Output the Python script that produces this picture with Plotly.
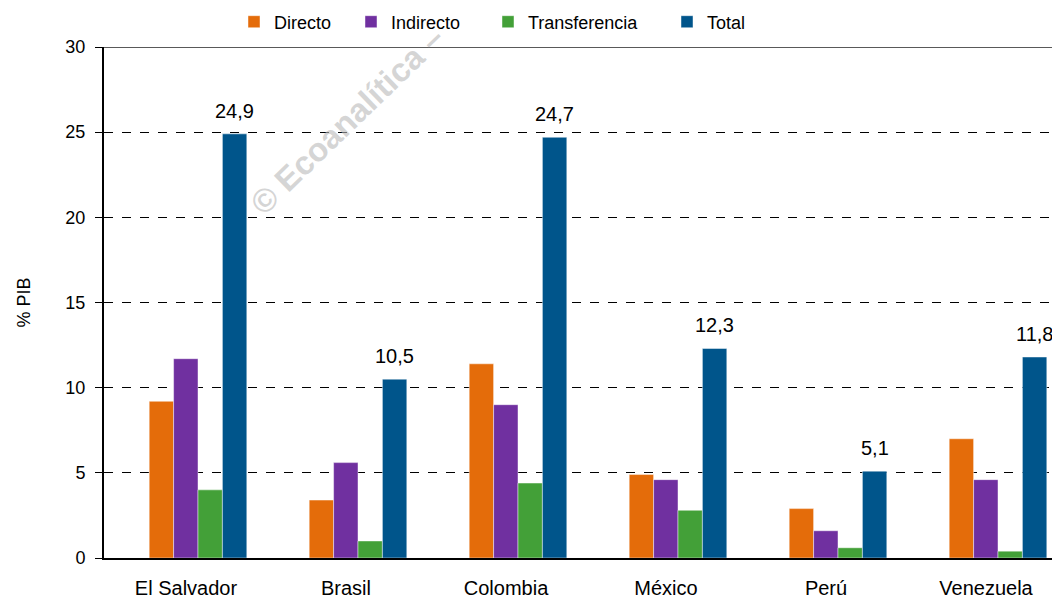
import plotly.graph_objects as go

countries = ["El Salvador", "Brasil", "Colombia", "México", "Perú", "Venezuela"]
directo = [9.2, 3.4, 11.4, 4.9, 2.9, 7.0]
indirecto = [11.7, 5.6, 9.0, 4.6, 1.6, 4.6]
transferencia = [4.0, 1.0, 4.4, 2.8, 0.6, 0.4]
total = [24.9, 10.5, 24.7, 12.3, 5.1, 11.8]
y_ticks = [0, 5, 10, 15, 20, 25, 30]

series = [
    ("Directo", directo, "#E46C0A", "legend"),
    ("Indirecto", indirecto, "#7030A0", "legend2"),
    ("Transferencia", transferencia, "#43A038", "legend3"),
    ("Total", total, "#00558B", "legend4"),
]

FONT = "Liberation Sans, Arial, sans-serif"
fig = go.Figure()
for name, vals, color, lg in series:
    fig.add_trace(go.Bar(
        name=name, x=countries, y=vals, showlegend=True,
        marker=dict(color=color, line=dict(color="rgba(255,255,255,0.45)", width=1)),
        legend=lg))

# page body has an 8px margin: figure is drawn from (8, 8) in the window
OFF = 8
W, H = 1060 - OFF, 598 - OFF
L, R, T, B = 104 - OFF, 0, 47 - OFF, 40
pw = W - L - R
ph = H - T - B
CAT = 160.0
# category centres at 198 + 160*i window px
x0 = -(198 - 104) / CAT
x1 = x0 + pw / CAT
bargap = 0.39
bar_w = CAT * (1 - bargap) / 4

leg_common = dict(orientation="h", yanchor="middle", y=1 + (47 - 22) / ph,
                  xanchor="left", font=dict(size=18, color="black", family=FONT),
                  bgcolor="rgba(0,0,0,0)", itemwidth=30, tracegroupgap=0,
                  visible=True)
text_starts = [274, 391, 528, 707]
legs = {}
for key, ts in zip(["legend", "legend2", "legend3", "legend4"], text_starts):
    legs[key] = dict(leg_common, x=(ts - 40 - 104) / pw)

annots = [dict(text=f"{v:.1f}".replace(".", ","), x=c, y=v, xref="x", yref="y",
               xanchor="center", yanchor="bottom", xshift=1.5 * bar_w, yshift=10,
               showarrow=False, font=dict(size=20, color="black", family=FONT))
          for c, v in zip(countries, total)]
annots.append(dict(text="<b>© Ecoanalítica –</b>", xref="paper", yref="paper",
                   xanchor="center", yanchor="middle",
                   x=(347 - 104) / pw, y=(558 - 120) / ph,
                   showarrow=False, textangle=-44,
                   font=dict(size=33, color="rgba(185,185,185,0.6)", family=FONT)))

fig.update_layout(
    width=W, height=H,
    margin=dict(l=L, r=R, t=T, b=B, autoexpand=False),
    showlegend=True,
    paper_bgcolor="white", plot_bgcolor="white",
    font=dict(family=FONT, size=18, color="black"),
    barmode="group", bargap=bargap, bargroupgap=0,
    **legs,
    xaxis=dict(range=[x0, x1], showline=True, linecolor="black", linewidth=2,
               ticks="", showgrid=False, tickfont=dict(size=20), automargin=False,
               ticklabelshift=-12, ticklabelstandoff=11),
    yaxis=dict(range=[0, 30], tickvals=y_ticks, showline=True, linecolor="black",
               linewidth=2, ticks="outside", ticklen=7, tickcolor="black",
               showgrid=True, gridcolor="black", griddash="dash", gridwidth=1,
               tickfont=dict(size=18), zeroline=False, automargin=False,
               ticklabelstandoff=6,
               title=dict(text="% PIB", font=dict(size=18), standoff=30)),
    shapes=[dict(type="line", xref="paper", yref="y", x0=0, x1=1, y0=30, y1=30,
                 line=dict(color="#222", width=1.5), layer="above")],
    annotations=annots,
)
fig.write_html("out.html")
